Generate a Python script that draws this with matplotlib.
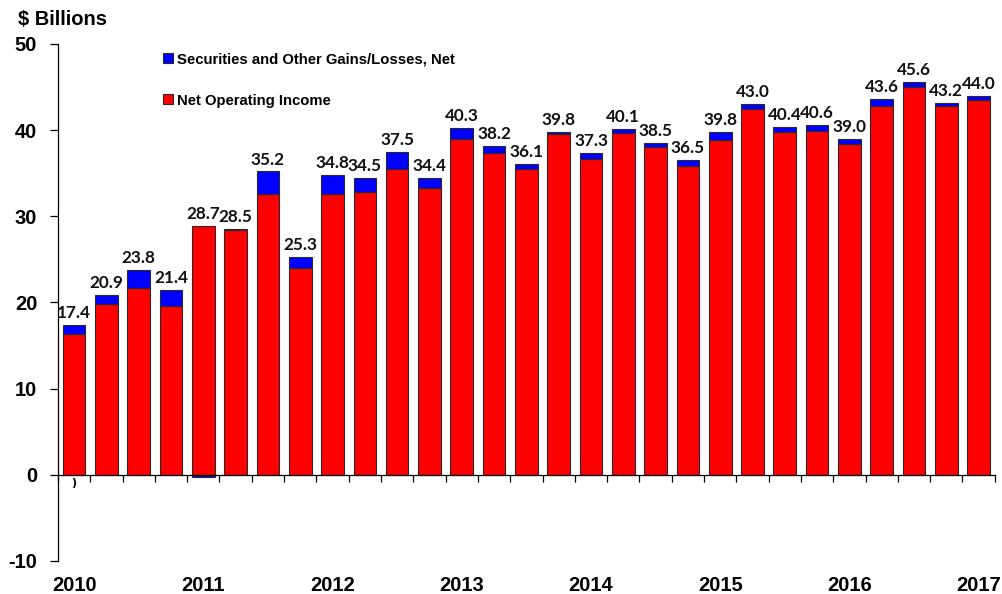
import numpy as np
from matplotlib import pyplot as plt
from matplotlib import transforms

plt.rcParams['axes.unicode_minus'] = False

# quarterly values, 2010Q1 .. 2017Q1 ($ billions)
netOperatingIncome = [16.3, 19.8, 21.7, 19.6, 28.9, 28.4, 32.6, 24.0, 32.6, 32.8, 35.5, 33.3,
                      39.0, 37.3, 35.5, 39.6, 36.7, 39.7, 38.0, 35.8, 38.9, 42.5, 39.8, 39.9,
                      38.4, 42.8, 45.0, 42.8, 43.5]
securitiesGains = [1.1, 1.1, 2.1, 1.8, -0.2, 0.1, 2.6, 1.3, 2.2, 1.7, 2.0, 1.1,
                   1.3, 0.9, 0.6, 0.2, 0.6, 0.4, 0.5, 0.7, 0.9, 0.5, 0.6, 0.7,
                   0.6, 0.8, 0.6, 0.4, 0.5]
yearLabels = ['2010', '2011', '2012', '2013', '2014', '2015', '2016', '2017']
yearPositions = [0, 4, 8, 12, 16, 20, 24, 28]

noi = np.array(netOperatingIncome)
gains = np.array(securitiesGains)
totals = noi + gains
x = np.arange(len(noi))

fig = plt.figure(figsize=(10.03, 5.94), dpi=100)
ax = fig.add_axes([0.0578, 0.0556, 0.934, 0.8704])

edge = dict(edgecolor='#2a2a2a', linewidth=0.8)
ax.bar(x, noi, width=0.7, color='#ff0000', label='Net Operating Income', zorder=2, **edge)
gainBottoms = np.where(gains >= 0, noi, 0)
ax.bar(x, gains, width=0.7, bottom=gainBottoms, color='#0000ff',
       label='Securities and Other Gains/Losses, Net', zorder=2, **edge)

for i, total in enumerate(totals):
    top = max(noi[i], noi[i] + gains[i])
    ax.annotate(f'{total:.1f}', (i, top), xytext=(0, 5), textcoords='offset points',
                ha='center', va='baseline', fontsize=12.3, fontweight='bold',
                family='Lato', color='#111111')

ax.text(0, -1.0, ')', ha='center', va='center', fontsize=8, fontweight='bold')

ax.set_xlim(-0.5, len(noi) - 0.5)
ax.set_ylim(-10, 50)
ax.set_yticks(range(-10, 51, 10))
ax.set_xticks(np.arange(len(noi) + 1) - 0.5)
ax.set_xticklabels([])

ax.spines['top'].set_visible(False)
ax.spines['right'].set_visible(False)
ax.spines['bottom'].set_position(('data', 0))
ax.spines['bottom'].set_linewidth(0.9)
ax.spines['left'].set_linewidth(0.9)
ax.tick_params(axis='y', direction='out', length=6, width=0.9, pad=9,
               labelsize=14.5)
ax.tick_params(axis='x', direction='out', length=5, width=0.9)
for label in ax.get_yticklabels():
    label.set_fontweight('bold')
    label.set_family('Liberation Sans')

trans = transforms.blended_transform_factory(ax.transData, ax.transAxes)
for pos, year in zip(yearPositions, yearLabels):
    ax.text(pos, -0.047, year, transform=trans, ha='center', va='center',
            fontsize=14.5, fontweight='bold', family='Liberation Sans')

fig.text(0.018, 0.968, '$ Billions', ha='left', va='center', fontsize=14.5,
         fontweight='bold', family='Liberation Sans')

handles, labels = ax.get_legend_handles_labels()
ax.legend(handles[::-1], labels[::-1], loc='upper left', bbox_to_anchor=(0.098, 1.01),
          frameon=False, handlelength=0.65, handleheight=0.65, handletextpad=0.25,
          labelspacing=1.85, prop={'family': 'Liberation Sans', 'weight': 'bold', 'size': 10.7})

fig.savefig('out.png', dpi=100)
